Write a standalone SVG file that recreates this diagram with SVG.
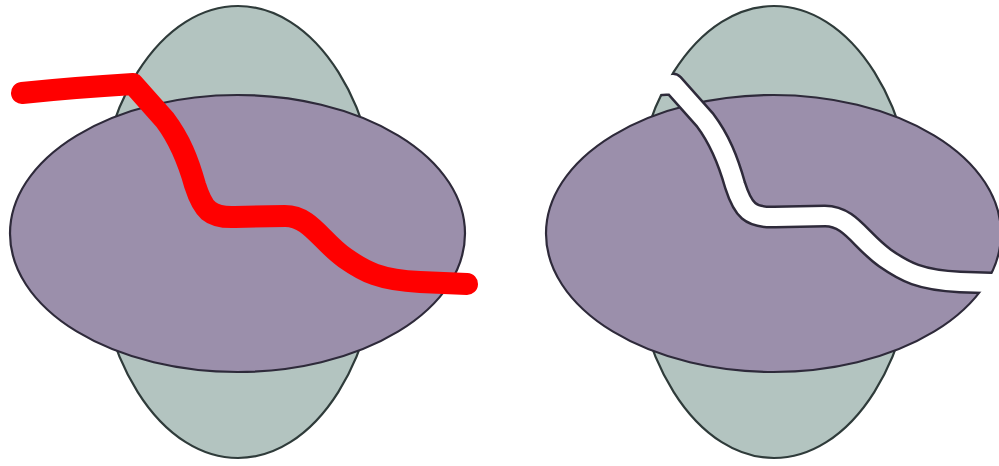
<svg xmlns="http://www.w3.org/2000/svg" width="999" height="466" viewBox="0 0 999 466">
  <style>
    .v { fill: #b3c4c0; stroke: #2f3b3a; stroke-width: 2.2; }
    .h { fill: #9b8fab; stroke: #2e2a3a; stroke-width: 2.2; }
    .red { fill: none; stroke: #ff0000; stroke-width: 22; stroke-linecap: round; stroke-linejoin: round; }
    .cutEdge { fill: none; stroke: #2e2a3a; stroke-width: 23; stroke-linejoin: round; }
    .cutGap { fill: none; stroke: #ffffff; stroke-width: 18; stroke-linejoin: round; }
  </style>
  <defs>
    <path id="cut" d="M22,93 C60,89 100,86 133,84 L165,120 C180,140 188,160 195,185 C203,210 210,218 235,217 L285,216 C310,216 320,240 345,258 C365,272 380,280 420,282 L480,284"/>
    <clipPath id="shapesClip">
      <ellipse cx="774" cy="232" rx="142" ry="226"/>
      <ellipse cx="773.5" cy="233.5" rx="227.5" ry="138.5"/>
    </clipPath>
  </defs>

  <g id="left">
    <ellipse class="v" cx="238" cy="232" rx="142" ry="226"/>
    <ellipse class="h" cx="237.5" cy="233.5" rx="227.5" ry="138.5"/>
  </g>
  <g id="left-cut-line">
    <path class="red" d="M22,93 C60,89 100,86 133,84 L165,120 C180,140 188,160 195,185 C203,210 210,218 235,217 L285,216 C310,216 320,240 345,258 C365,272 380,280 420,282 L467,284"/>
  </g>

  <g id="right">
    <ellipse class="v" cx="774" cy="232" rx="142" ry="226"/>
    <ellipse class="h" cx="773.5" cy="233.5" rx="227.5" ry="138.5"/>
  </g>
  <g id="right-cut">
    <g clip-path="url(#shapesClip)">
      <use href="#cut" class="cutEdge" transform="translate(540,0)"/>
    </g>
    <use href="#cut" class="cutGap" transform="translate(540,0)"/>
  </g>
</svg>
